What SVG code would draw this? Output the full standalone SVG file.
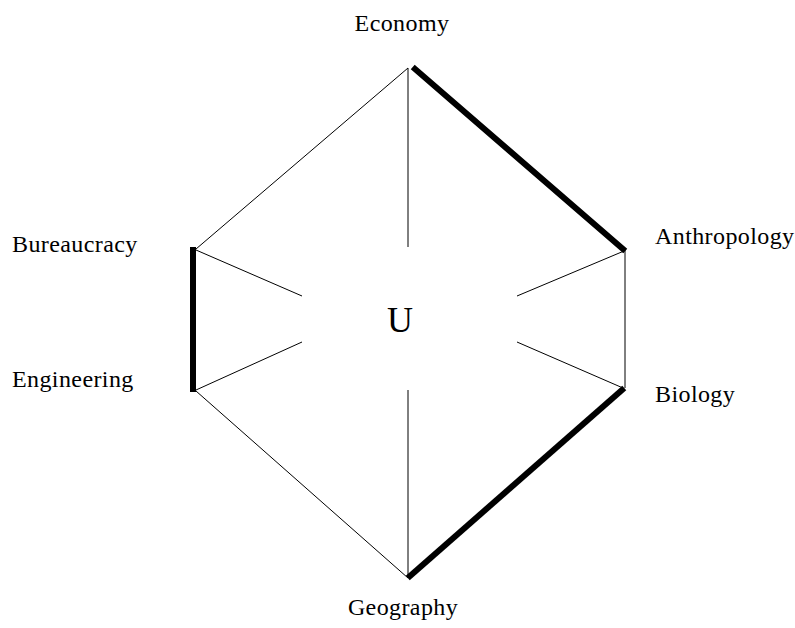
<svg xmlns="http://www.w3.org/2000/svg" width="795" height="628" viewBox="0 0 795 628">
<style>
.lbl{font-family:"Liberation Serif","Times New Roman",serif;font-size:24px;fill:#000;letter-spacing:0.4px}
.thin{stroke:#000;stroke-width:1;fill:none}
.thick{stroke:#000;stroke-width:6;fill:none;stroke-linecap:square}
</style>
<rect width="795" height="628" fill="#fff"/>
<g id="connectors">
<line class="thin" x1="408" y1="68" x2="196" y2="249"/>
<line class="thin" x1="408" y1="68" x2="408" y2="247"/>
<line class="thick" x1="415" y1="69" x2="623" y2="249"/>
<line class="thick" x1="193" y1="250" x2="193" y2="389"/>
<line class="thin" x1="196" y1="250" x2="302" y2="296"/>
<line class="thin" x1="196" y1="390" x2="302" y2="342"/>
<line class="thin" x1="624" y1="251" x2="517" y2="296"/>
<line class="thin" x1="623" y1="388" x2="517" y2="342"/>
<line class="thin" x1="625" y1="250" x2="625" y2="388"/>
<line class="thick" x1="622" y1="390" x2="410" y2="576"/>
<line class="thin" x1="408" y1="390" x2="408" y2="578"/>
<line class="thin" x1="196" y1="391" x2="408" y2="578"/>
</g>
<g id="economy"><text class="lbl" x="402" y="31" text-anchor="middle">Economy</text></g>
<g id="bureaucracy"><text class="lbl" x="12" y="252">Bureaucracy</text></g>
<g id="engineering"><text class="lbl" x="12" y="387">Engineering</text></g>
<g id="anthropology"><text class="lbl" x="655" y="244">Anthropology</text></g>
<g id="biology"><text class="lbl" x="655" y="402">Biology</text></g>
<g id="geography"><text class="lbl" x="403" y="615" text-anchor="middle">Geography</text></g>
<g id="u"><text x="400" y="332" text-anchor="middle" style="font-family:'Liberation Serif','Times New Roman',serif;font-size:36px;fill:#000">U</text></g>
</svg>
